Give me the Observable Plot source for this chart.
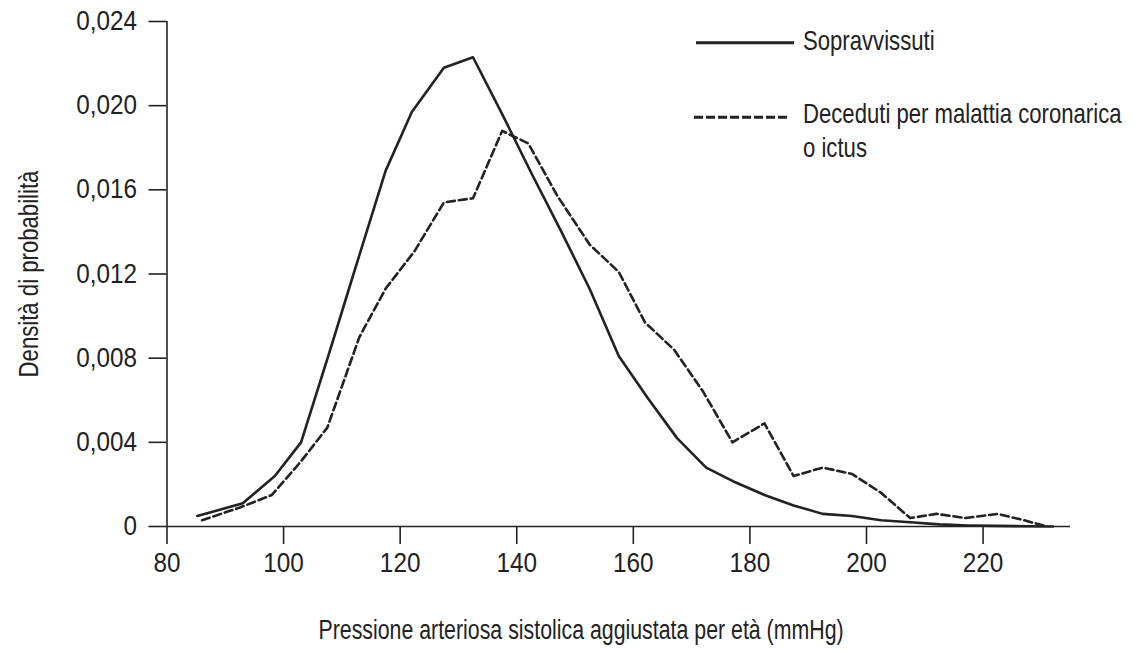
<!DOCTYPE html>
<html>
<head>
<meta charset="utf-8">
<script src="https://cdn.jsdelivr.net/npm/d3@7"></script>
<script src="https://cdn.jsdelivr.net/npm/@observablehq/plot@0.6"></script>
<style>
  html, body { margin: 0; padding: 0; background: #fff; }
  #wrap { position: relative; width: 1135px; height: 652px; overflow: hidden; }
  #wrap > svg { position: absolute; left: 0; top: 0; }
</style>
</head>
<body>
<div id="wrap"></div>
<script>
// ---- data ----
const survPressure = [85.2, 93, 98.5, 103, 108, 112, 117.5, 122, 127.5, 132.5, 137.5, 142.5, 147.5, 152.5, 157.5, 162.5, 167.5, 172.5, 177.5, 182.5, 187.5, 192.5, 197.5, 202.5, 207.5, 212.5, 217.5, 222.5, 227.5, 232];
const survDensity  = [0.0005, 0.0011, 0.0024, 0.0040, 0.0084, 0.0120, 0.0169, 0.0197, 0.0218, 0.0223, 0.0196, 0.0168, 0.0141, 0.0113, 0.0081, 0.0061, 0.0042, 0.0028, 0.0021, 0.0015, 0.0010, 0.0006, 0.0005, 0.0003, 0.0002, 0.0001, 0.00005, 0.00003, 0.00001, 0];

const deadPressure = [86, 92.5, 98, 103, 107.5, 113, 117.5, 122.5, 127.5, 132.5, 137.5, 142, 147, 152.5, 157.5, 162, 167, 172, 177, 182.5, 187.5, 192.5, 197.5, 202.5, 207.5, 212, 217, 222.5, 227, 231];
const deadDensity  = [0.0003, 0.0009, 0.0015, 0.0031, 0.0047, 0.0090, 0.0113, 0.0131, 0.0154, 0.0156, 0.0188, 0.0182, 0.0157, 0.0134, 0.0121, 0.0097, 0.0084, 0.0064, 0.0040, 0.0049, 0.0024, 0.0028, 0.0025, 0.0016, 0.0004, 0.0006, 0.0004, 0.0006, 0.0003, 0];

const xTicks = [80, 100, 120, 140, 160, 180, 200, 220];
const yTicks = [0, 0.004, 0.008, 0.012, 0.016, 0.020, 0.024];
const seriesNames = ["Sopravvissuti", "Deceduti per malattia coronarica", "o ictus"];
const xLabel = "Pressione arteriosa sistolica aggiustata per età (mmHg)";
const yLabel = "Densità di probabilità";

// ---- build ----
const surv = survPressure.map((x, i) => ({x, y: survDensity[i]}));
const dead = deadPressure.map((x, i) => ({x, y: deadDensity[i]}));
const fmtY = d => d === 0 ? "0" : d.toFixed(3).replace(".", ",");
const ink = "#222";
const fontFamily = '"Liberation Sans", Arial, sans-serif';

const chart = Plot.plot({
  width: 1135,
  height: 652,
  marginLeft: 166.5,
  marginRight: 65,
  marginTop: 21,
  marginBottom: 126,
  style: {fontFamily, fontSize: "27px", color: ink, background: "#fff"},
  x: {domain: [80, 235], label: null},
  y: {domain: [0, 0.024], label: null},
  marks: [
    Plot.axisX({ticks: xTicks, tickSize: 18, tickPadding: 8, tickFormat: d => String(d), strokeWidth: 1.6, stroke: ink, fill: ink, label: null}),
    Plot.axisY({ticks: yTicks, tickSize: 18, tickPadding: 12, tickFormat: fmtY, strokeWidth: 1.6, stroke: ink, fill: ink, label: null}),
    Plot.ruleY([0], {stroke: ink, strokeWidth: 1.6}),
    Plot.ruleX([xTicks[0]], {y1: yTicks[0], y2: yTicks[yTicks.length - 1], stroke: ink, strokeWidth: 1.6}),
    Plot.line(dead, {x: "x", y: "y", stroke: ink, strokeWidth: 2.6, strokeDasharray: "8,4"}),
    Plot.line(surv, {x: "x", y: "y", stroke: ink, strokeWidth: 2.6}),
    Plot.text([xLabel], {x: (xTicks[0] + xTicks[xTicks.length - 1]) / 2, frameAnchor: "bottom", dx: 6, dy: 104, text: d => d, fill: ink, textAnchor: "middle", lineAnchor: "middle"}),
    Plot.text([yLabel], {frameAnchor: "left", dx: -138, rotate: -90, text: d => d, fill: ink, textAnchor: "middle", lineAnchor: "middle"})
  ]
});

const wrap = document.getElementById("wrap");
wrap.appendChild(chart);

// ---- condense glyphs to mimic the narrow typeface ----
chart.querySelectorAll("text").forEach(t => {
  const g = t.closest("g");
  const aria = g ? (g.getAttribute("aria-label") || "") : "";
  const f = aria.includes("tick label") ? 0.9 : (t.textContent === xLabel ? 0.79 : 0.82);
  const len = t.getComputedTextLength();
  if (len > 0) {
    t.setAttribute("textLength", (len * f).toFixed(1));
    t.setAttribute("lengthAdjust", "spacingAndGlyphs");
  }
});

// ---- legend overlay ----
const ns = "http://www.w3.org/2000/svg";
const ov = document.createElementNS(ns, "svg");
ov.setAttribute("width", 1135);
ov.setAttribute("height", 652);
ov.style.fontFamily = fontFamily;
ov.style.fontSize = "27px";
wrap.appendChild(ov);
function swatch(x1, x2, y, dash) {
  const l = document.createElementNS(ns, "line");
  l.setAttribute("x1", x1); l.setAttribute("x2", x2);
  l.setAttribute("y1", y); l.setAttribute("y2", y);
  l.setAttribute("stroke", ink); l.setAttribute("stroke-width", 3);
  if (dash) l.setAttribute("stroke-dasharray", dash);
  ov.appendChild(l);
}
function label(txt, x, y) {
  const g = document.createElementNS(ns, "g");
  g.setAttribute("transform", `translate(${x},${y}) scale(0.82,1)`);
  const t = document.createElementNS(ns, "text");
  t.setAttribute("x", 0); t.setAttribute("y", 0);
  t.setAttribute("fill", ink);
  t.textContent = txt;
  g.appendChild(t);
  ov.appendChild(g);
}
swatch(696, 794, 42.7, null);
swatch(694, 790, 117.3, "9,3");
label(seriesNames[0], 803, 50);
label(seriesNames[1], 803, 123.3);
label(seriesNames[2], 803, 156.7);
</script>
</body>
</html>
